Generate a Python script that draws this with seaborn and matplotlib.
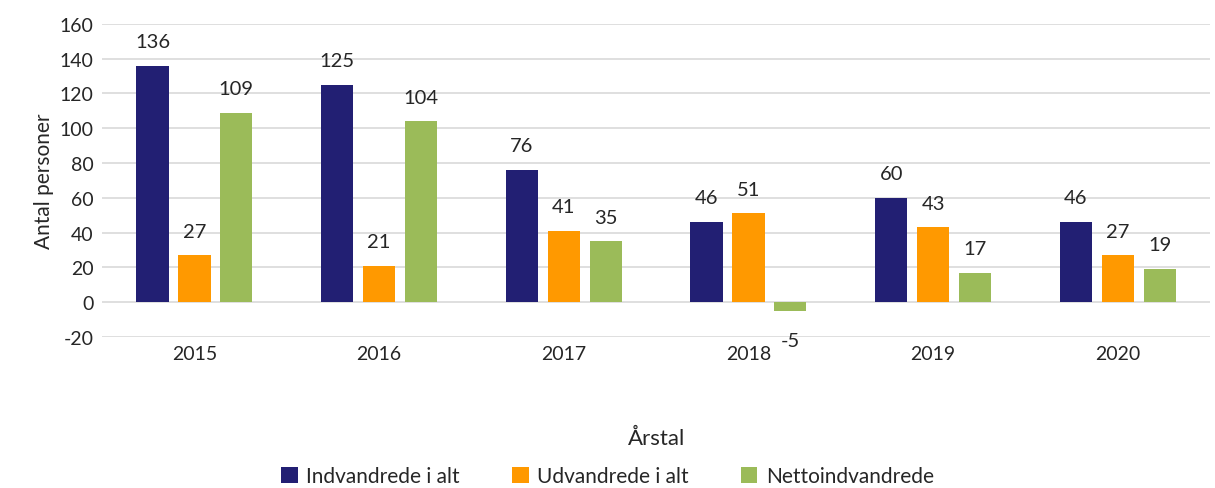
import pandas as pd
import matplotlib.pyplot as plt
import seaborn as sns

# data
years = ["2015", "2016", "2017", "2018", "2019", "2020"]
indvandrede = [136, 125, 76, 46, 60, 46]
udvandrede = [27, 21, 41, 51, 43, 27]
netto = [109, 104, 35, -5, 17, 19]
series_names = ["Indvandrede i alt", "Udvandrede i alt", "Nettoindvandrede"]
colors = ["#221f73", "#ff9900", "#9bbb59"]

df = pd.DataFrame({
    "Årstal": years * 3,
    "value": indvandrede + udvandrede + netto,
    "serie": [s for s in series_names for _ in years],
})

sns.set_style("white")
plt.rcParams["font.family"] = ["Lato", "DejaVu Sans"]
plt.rcParams["axes.unicode_minus"] = False

fig = plt.figure(figsize=(12.15, 4.89), dpi=100)
ax = fig.add_axes([0.084, 0.309, 0.912, 0.64])

sns.barplot(data=df, x="Årstal", y="value", hue="serie", palette=colors,
            saturation=1, linewidth=0, width=0.68, gap=0.23, ax=ax, legend=True)

for cont in ax.containers:
    for bar in cont:
        h = bar.get_height()
        xc = bar.get_x() + bar.get_width() / 2
        if h >= 0:
            ax.text(xc, h + 9, f"{h:.0f}", ha="center", va="bottom", fontsize=14.5)
        else:
            ax.text(xc, h - 12, f"{h:.0f}", ha="center", va="top", fontsize=14.5)

ax.set_ylim(-20, 160)
ax.set_yticks(range(-20, 161, 20))
ax.set_xlim(-0.5, 5.5)
ax.grid(axis="y", color="#d9d9d9", linewidth=1.2)
ax.set_axisbelow(True)
for s in ax.spines.values():
    s.set_visible(False)
ax.tick_params(axis="both", length=0, labelsize=14, pad=6)
ax.set_ylabel("Antal personer", fontsize=15)
ax.set_xlabel("Årstal", fontsize=16, labelpad=47)

handles, labels = ax.get_legend_handles_labels()
ax.legend_.remove()
fig.legend(handles, labels, loc="lower center", bbox_to_anchor=(0.5, -0.035),
           ncol=3, frameon=False, fontsize=15, handlelength=0.8, handleheight=0.8,
           columnspacing=2.5, handletextpad=0.4)

fig.savefig("out.png", dpi=100)
